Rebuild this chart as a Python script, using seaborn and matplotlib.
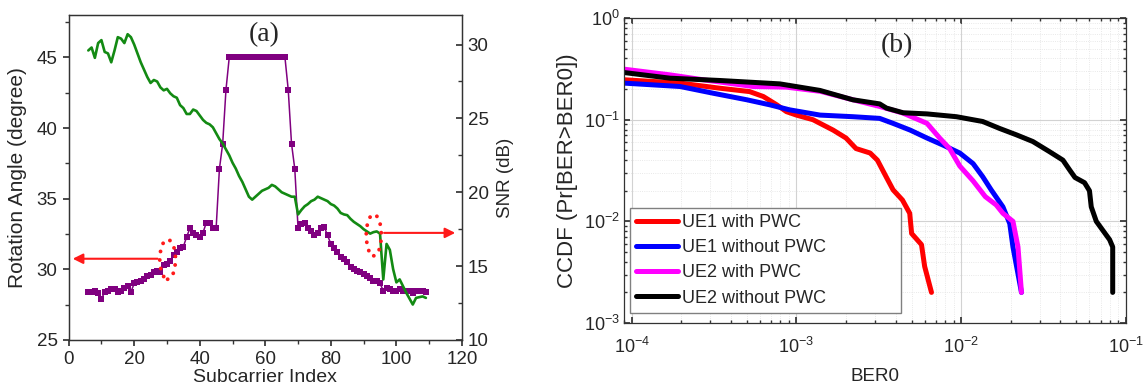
import numpy as np
import pandas as pd
import matplotlib
matplotlib.use("Agg")
import matplotlib.pyplot as plt
import seaborn as sns
from matplotlib.patches import Ellipse
from matplotlib.ticker import MultipleLocator, LogLocator, NullFormatter

# (a) rotation angle (left axis) and SNR (right axis) per subcarrier
subcarrier = list(range(6, 110))
rotation_angle = [
    28.4, 28.4, 28.5, 28.3, 27.9, 28.4, 28.5, 28.6, 28.6, 28.4,
    28.5, 28.7, 28.8, 28.4, 29.0, 29.1, 29.2, 29.3, 29.5, 29.6,
    29.8, 29.9, 29.8, 30.3, 30.4, 30.6, 31.0, 31.2, 31.5, 31.6,
    32.3, 32.9, 32.6, 32.4, 32.3, 32.6, 33.3, 33.3, 32.9, 32.9,
    37.1, 38.9, 42.7, 45.0, 45.0, 45.0, 45.0, 45.0, 45.0, 45.0,
    45.0, 45.0, 45.0, 45.0, 45.0, 45.0, 45.0, 45.0, 45.0, 45.0,
    45.0, 42.7, 38.9, 37.1, 32.9, 33.2, 33.3, 32.9, 32.7, 32.4,
    32.6, 32.9, 33.0, 32.4, 31.8, 31.5, 31.2, 30.9, 30.7, 30.5,
    30.2, 30.0, 29.9, 29.8, 29.7, 29.5, 29.4, 29.2, 29.2, 29.0,
    28.5, 28.7, 28.6, 28.5, 28.5, 28.6, 28.5, 28.5, 28.5, 28.3,
    28.5, 28.5, 28.5, 28.4,
]
snr = [
    29.6, 29.8, 29.1, 30.1, 30.3, 29.5, 29.4, 28.8, 29.6, 30.5,
    30.4, 30.1, 30.7, 30.5, 30.0, 29.4, 28.8, 28.3, 27.8, 27.4,
    27.6, 27.5, 27.1, 26.9, 27.0, 26.7, 26.5, 26.4, 25.9, 25.7,
    25.3, 25.3, 25.6, 25.5, 25.2, 24.9, 24.7, 24.6, 24.4, 24.0,
    23.6, 23.3, 22.9, 22.5, 22.0, 21.6, 21.1, 20.7, 20.2, 19.7,
    19.5, 19.7, 19.9, 20.1, 20.2, 20.3, 20.5, 20.4, 20.2, 20.0,
    19.9, 19.8, 19.7, 19.7, 18.5, 18.8, 19.05, 19.2, 19.4, 19.5,
    19.7, 19.6, 19.5, 19.4, 19.2, 19.1, 18.9, 18.6, 18.5, 18.45,
    18.2, 18.0, 17.85, 17.7, 17.5, 17.35, 17.2, 17.3, 17.35, 17.2,
    14.1, 16.5, 16.1, 14.8, 13.9, 14.1, 13.65, 13.2, 12.8, 12.4,
    12.85, 12.9, 12.95, 12.85,
]

# (b) CCDF curves
ue1_pwc_x = [9.0e-5, 1.97e-4, 3.43e-4, 5.2e-4, 6.3e-4, 7.6e-4, 8.7e-4, 1.0e-3, 1.26e-3,
             1.67e-3, 2.0e-3, 2.3e-3, 2.8e-3, 3.1e-3, 3.5e-3, 3.86e-3, 4.4e-3, 4.87e-3,
             5.0e-3, 5.74e-3, 6.0e-3, 6.6e-3]
ue1_pwc_y = [0.247, 0.229, 0.204, 0.189, 0.169, 0.14, 0.12, 0.111, 0.1, 0.079, 0.066,
             0.052, 0.047, 0.04, 0.0275, 0.0204, 0.0162, 0.012, 0.0076, 0.0059, 0.0036, 0.002]
ue1_nopwc_x = [9.0e-5, 1.97e-4, 3.13e-4, 5.0e-4, 6.9e-4, 9.1e-4, 1.39e-3, 2.2e-3, 3.2e-3,
               3.86e-3, 4.9e-3, 6.2e-3, 7.8e-3, 9.8e-3, 1.18e-2, 1.35e-2, 1.52e-2, 1.79e-2,
               1.97e-2, 2.06e-2, 2.32e-2]
ue1_nopwc_y = [0.229, 0.212, 0.182, 0.157, 0.14, 0.125, 0.111, 0.107, 0.103, 0.092, 0.079,
               0.066, 0.056, 0.047, 0.037, 0.0275, 0.0204, 0.0139, 0.0095, 0.0056, 0.002]
ue2_pwc_x = [9.0e-5, 1.71e-4, 2.72e-4, 5.47e-4, 8.7e-4, 1.4e-3, 2.2e-3, 3.2e-3, 4.44e-3,
             6.2e-3, 7.4e-3, 8.5e-3, 9.8e-3, 1.18e-2, 1.4e-2, 1.63e-2, 1.79e-2, 2.06e-2,
             2.21e-2, 2.32e-2]
ue2_pwc_y = [0.314, 0.276, 0.247, 0.212, 0.209, 0.19, 0.157, 0.135, 0.116, 0.092, 0.066,
             0.052, 0.035, 0.025, 0.0175, 0.0145, 0.012, 0.01, 0.0056, 0.002]
ue2_nopwc_x = [9.0e-5, 1.71e-4, 3.43e-4, 7.94e-4, 1.39e-3, 2.2e-3, 3.2e-3, 3.52e-3, 4.44e-3,
               6.2e-3, 9.35e-3, 1.35e-2, 1.71e-2, 2.16e-2, 2.72e-2, 3.43e-2, 4.14e-2, 4.55e-2,
               4.9e-2, 5.6e-2, 6.0e-2, 6.15e-2, 6.6e-2, 7.95e-2, 8.3e-2, 8.3e-2]
ue2_nopwc_y = [0.291, 0.256, 0.243, 0.225, 0.194, 0.157, 0.143, 0.13, 0.117, 0.114, 0.107,
               0.096, 0.082, 0.071, 0.061, 0.0485, 0.040, 0.032, 0.027, 0.024, 0.020, 0.0139,
               0.010, 0.0066, 0.0056, 0.002]

curves = [
    ("UE1 with PWC", ue1_pwc_x, ue1_pwc_y, "#ff0000"),
    ("UE1 without PWC", ue1_nopwc_x, ue1_nopwc_y, "#0000ff"),
    ("UE2 with PWC", ue2_pwc_x, ue2_pwc_y, "#ff00ff"),
    ("UE2 without PWC", ue2_nopwc_x, ue2_nopwc_y, "#000000"),
]

sns.set_theme(style="ticks")
plt.rcParams["font.family"] = ["Liberation Sans", "DejaVu Sans"]
plt.rcParams["mathtext.fontset"] = "custom"
plt.rcParams["mathtext.rm"] = "Liberation Sans"
plt.rcParams["mathtext.it"] = "Liberation Sans:italic"
plt.rcParams["axes.edgecolor"] = "#333333"
plt.rcParams["axes.linewidth"] = 0.9

PURPLE = "#800080"
GREEN = "#138a13"
RED = "#ff1a1a"

fig = plt.figure(figsize=(11.44, 3.92), dpi=100)
ax = fig.add_axes([0.060, 0.1327, 0.3438, 0.829])
axr = fig.add_axes([0.5455, 0.176, 0.4388, 0.778])

# ---- (a)
sns.lineplot(x=subcarrier, y=rotation_angle, ax=ax, color=PURPLE, lw=1.1,
             marker="s", markersize=4.8, markeredgewidth=0, estimator=None)
ax.set_xlim(0, 120)
ax.set_ylim(25, 48)
ax.xaxis.set_major_locator(MultipleLocator(20))
ax.xaxis.set_minor_locator(MultipleLocator(10))
ax.yaxis.set_major_locator(MultipleLocator(5))
ax.yaxis.set_minor_locator(MultipleLocator(2.5))
ax.tick_params(which="both", direction="out", labelsize=13.5, color="#333333", pad=4)
ax.tick_params(which="major", length=4)
ax.tick_params(which="minor", length=3)
ax.set_xlabel("Subcarrier Index", fontsize=14, labelpad=1)
ax.set_ylabel("Rotation Angle (degree)", fontsize=15, labelpad=7)

ax2 = ax.twinx()
sns.lineplot(x=subcarrier, y=snr, ax=ax2, color=GREEN, lw=1.9, estimator=None)
ax2.set_ylim(10, 32)
ax2.yaxis.set_major_locator(MultipleLocator(5))
ax2.yaxis.set_minor_locator(MultipleLocator(2.5))
ax2.tick_params(which="both", direction="in", labelsize=13.5, color="#333333", pad=4)
ax2.tick_params(which="major", length=4)
ax2.tick_params(which="minor", length=3)
ax2.set_ylabel("SNR (dB)", fontsize=13.5, labelpad=6)

ax.add_patch(Ellipse((30.2, 30.7), 4.8, 2.8, fill=False, edgecolor=RED, lw=2.8,
                     ls=(0, (0.01, 2.2)), capstyle="round", zorder=5))
ax.annotate("", xy=(0.4, 30.75), xytext=(28.0, 30.75),
            arrowprops=dict(arrowstyle="-|>", color=RED, lw=1.5, mutation_scale=15))
ax2.add_patch(Ellipse((93.1, 17.1), 4.6, 2.8, fill=False, edgecolor=RED, lw=2.8,
                      ls=(0, (0.01, 2.2)), capstyle="round", zorder=5))
ax2.annotate("", xy=(118.8, 17.25), xytext=(95.4, 17.25),
             arrowprops=dict(arrowstyle="-|>", color=RED, lw=1.5, mutation_scale=15))
ax.text(59.8, 46.6, "(a)", fontsize=20, family="Liberation Serif", ha="center", va="center")

# ---- (b)
for label, xs, ys, col in curves:
    sns.lineplot(x=xs, y=ys, ax=axr, color=col, lw=3.6, label=label,
                 sort=False, estimator=None)
axr.set_xscale("log")
axr.set_yscale("log")
axr.set_xlim(9.0e-5, 1e-1)
axr.set_ylim(1e-3, 1e0)
for a in (axr.xaxis, axr.yaxis):
    a.set_major_locator(LogLocator(base=10, numticks=10))
    a.set_minor_locator(LogLocator(base=10, subs=np.arange(2, 10), numticks=12))
    a.set_minor_formatter(NullFormatter())
axr.grid(True, which="major", color="#d2d2d2", lw=0.8)
axr.grid(True, which="minor", color="#e2e2e2", lw=0.6, ls=":")
axr.tick_params(which="both", direction="in", top=True, right=True,
                labelsize=13, color="#333333")
axr.tick_params(which="major", length=4)
axr.tick_params(which="minor", length=2.5)
axr.tick_params(axis="x", pad=10)
axr.tick_params(axis="y", pad=3)
axr.set_xlabel("BER0", fontsize=13.5, labelpad=8)
axr.set_ylabel("CCDF (Pr[BER>BER0])", fontsize=16, labelpad=4)
leg = axr.legend(loc="lower left", bbox_to_anchor=(0.012, 0.033, 0.54, 0.36), mode="expand",
                 borderaxespad=0, fontsize=13, labelspacing=0.45, borderpad=0.35,
                 handlelength=2.3, handletextpad=0.25, fancybox=False, framealpha=1)
leg.get_frame().set_edgecolor("#808080")
leg.get_frame().set_linewidth(1.0)
axr.text(0.543, 0.911, "(b)", transform=axr.transAxes, fontsize=20,
         family="Liberation Serif", ha="center", va="center")

fig.savefig("out.png", dpi=100)
